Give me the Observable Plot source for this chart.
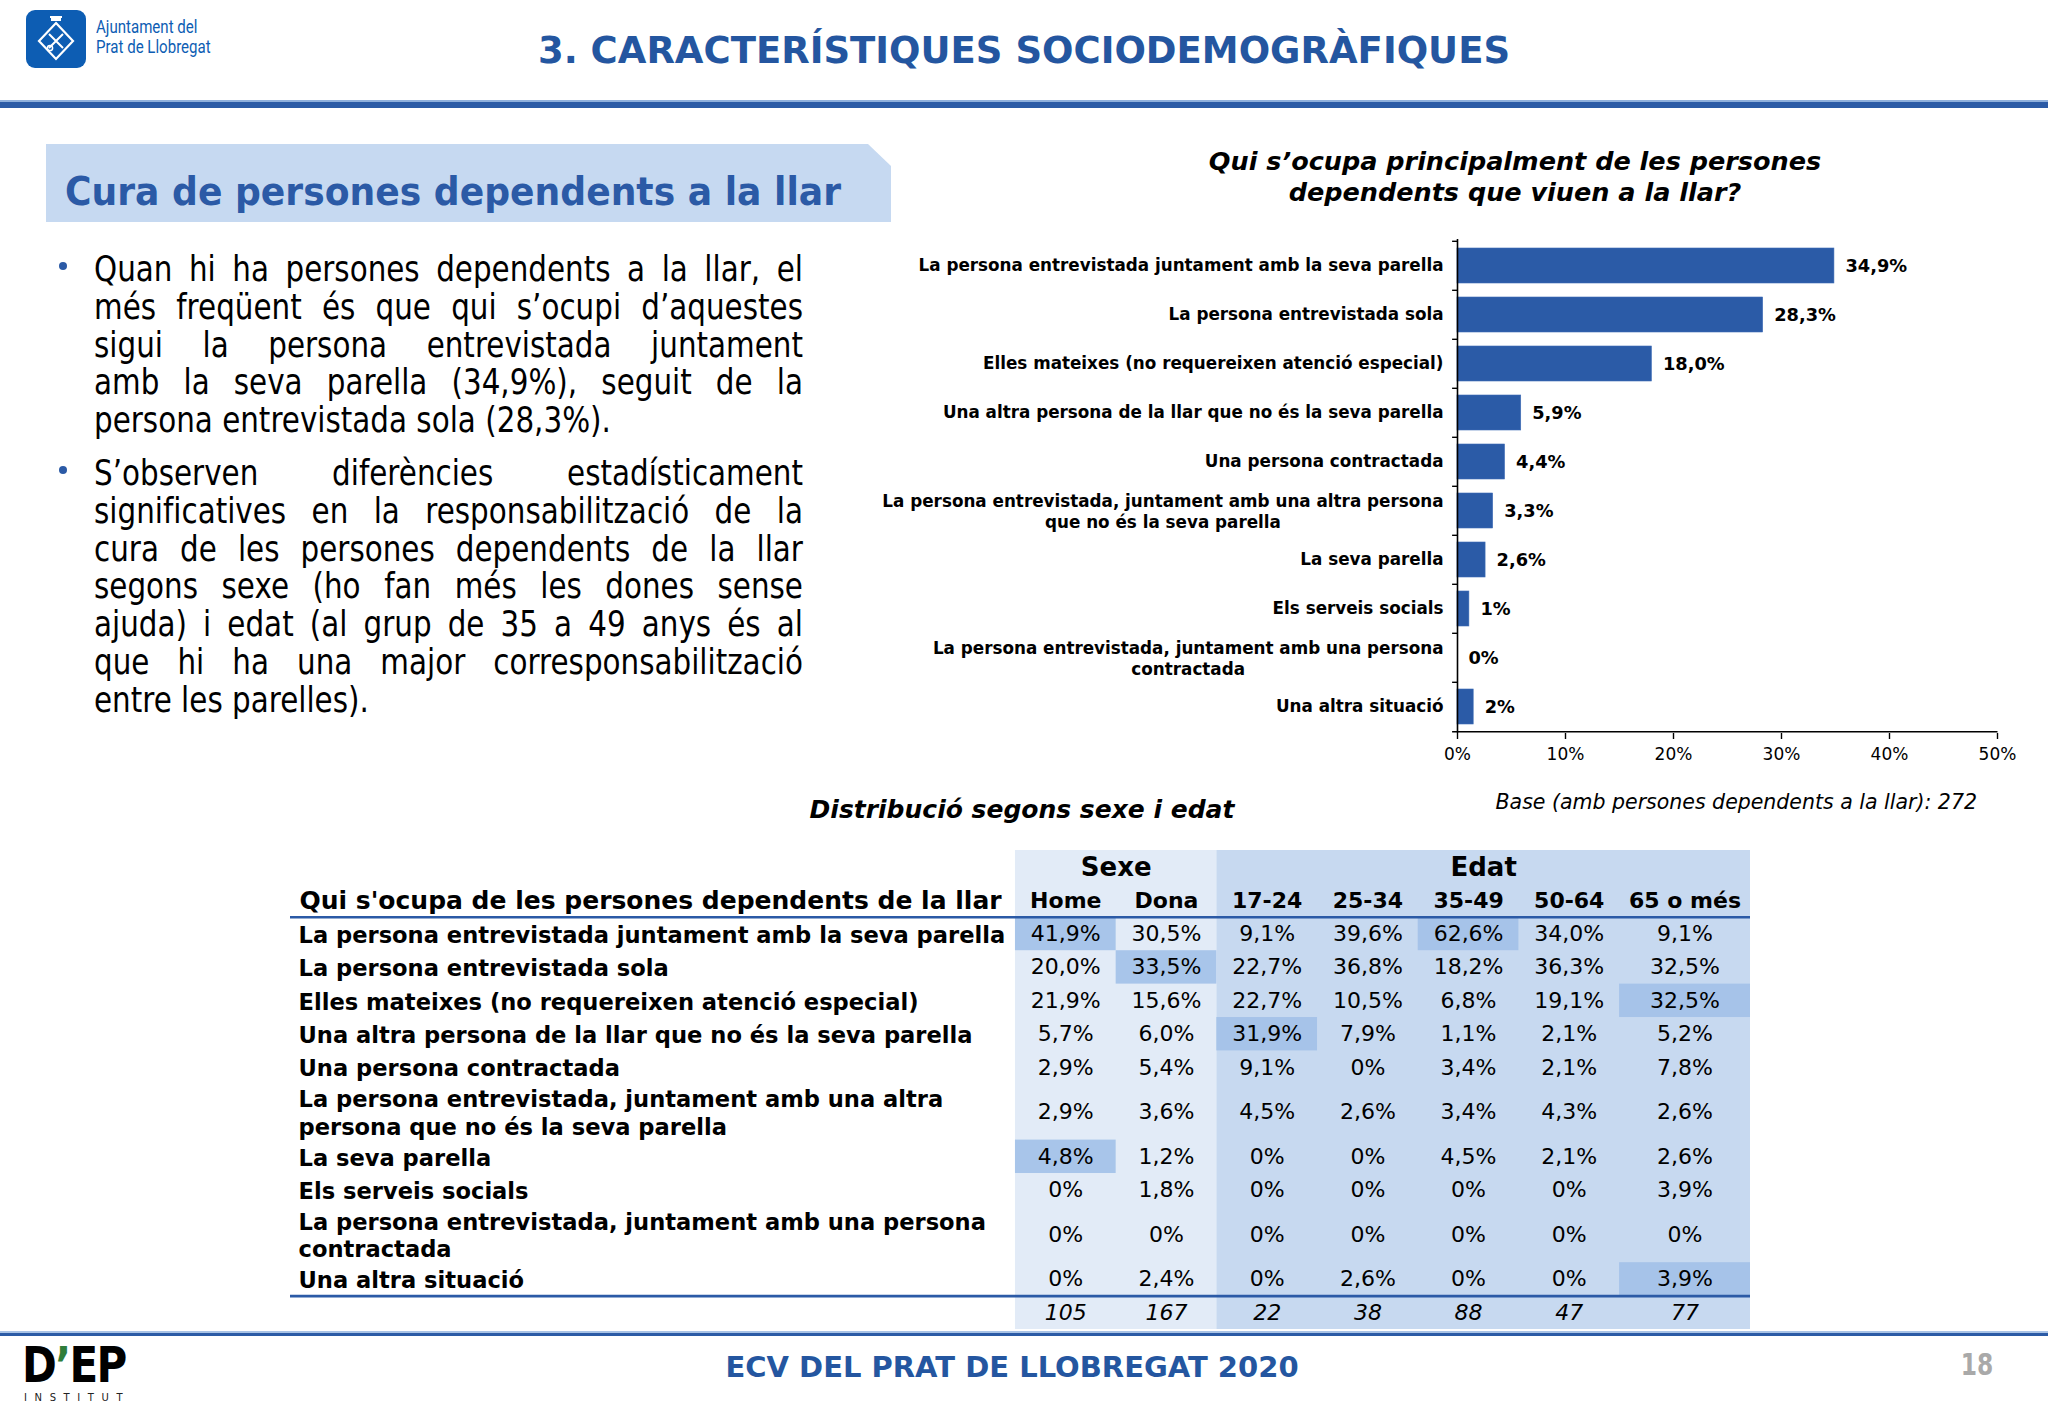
<!DOCTYPE html>
<html lang="ca">
<head>
<meta charset="utf-8">
<script src="https://cdn.jsdelivr.net/npm/d3@7"></script>
<script src="https://cdn.jsdelivr.net/npm/@observablehq/plot@0.6"></script>
<style>
  html, body { margin: 0; padding: 0; background: #ffffff; }
  body { width: 2048px; height: 1418px; position: relative; overflow: hidden;
         font-family: "DejaVu Sans", Verdana, sans-serif; color: #000; }
  .abs { position: absolute; }
  #logo { left: 26px; top: 10px; width: 60px; height: 58px; background: #0d5db3; border-radius: 9px; }
  #logoText { left: 96px; top: 17px; color: #0d5db3; font-family: Roboto, sans-serif; font-size: 17.5px;
              line-height: 20px; transform: scaleX(0.86); transform-origin: left top; }
  #title { left: 0; top: 30px; width: 2048px; text-align: center; font-weight: bold; font-size: 37px;
           line-height: 42px; color: #2456a0; }
  #topRule { left: 0; top: 102px; width: 2048px; height: 6px; background: #2b5ba6; }
  #topRule2 { left: 0; top: 100px; width: 2048px; height: 2px; background: #8fb0dc; }
  #section { left: 46px; top: 144px; width: 845px; height: 78px; background: #c6d9f1;
             clip-path: polygon(0 0, 822px 0, 845px 22px, 845px 78px, 0 78px); }
  #sectionText { left: 65px; top: 169px; font-weight: bold; font-size: 39px; line-height: 46px; color: #2b5aa6;
                 white-space: nowrap; transform-origin: left top; }
  .bullet { position: absolute; left: 94px; width: 709px; }
  .bullet .inner { width: 844px; transform: scaleX(0.84); transform-origin: left top; font-size: 35px; line-height: 37.8px; }
  .bullet .ln { text-align: justify; text-align-last: justify; white-space: nowrap; }
  .bullet .ln.last { text-align-last: left; }
  .dot { position: absolute; left: 59px; width: 8px; height: 8px; border-radius: 50%; background: #2b5aa6; }
  #chartTitle { left: 1115px; top: 146px; width: 800px; text-align: center; font-weight: bold; font-style: italic;
                font-size: 25.5px; line-height: 31px; }
  #barChart { left: 860px; top: 225px; }
  #baseNote { left: 1380px; top: 789px; width: 597px; text-align: right; font-style: italic; font-size: 20.5px; line-height: 26px; }
  #tableTitle { left: 722px; top: 795px; width: 600px; text-align: center; font-weight: bold; font-style: italic;
                font-size: 25px; line-height: 30px; }
  #table { left: 290px; top: 850px; }
  #footRule { left: 0; top: 1333px; width: 2048px; height: 3px; background: #2b5ba6; }
  #footRule2 { left: 0; top: 1331px; width: 2048px; height: 2px; background: #a9c3e6; }
  #footTitle { left: 0; top: 1350px; width: 2024px; text-align: center; font-weight: bold; font-size: 29px;
               line-height: 34px; color: #2456a0; }
  #pageNum { left: 1950px; top: 1348px; width: 54px; text-align: center; font-size: 30px; line-height: 34px; color: #a9a9a9;
             font-weight: bold; transform: scaleX(0.78); }
  #dep { left: 22px; top: 1340px; font-weight: bold; font-size: 50px; line-height: 50px; letter-spacing: -2px;
         transform: scaleX(0.84); transform-origin: left top; color: #000; font-family: "DejaVu Sans", sans-serif; }
  #dep span { color: #2f7d3a; }
  #inst { left: 24px; top: 1392px; font-size: 10px; letter-spacing: 7.6px; color: #222; line-height: 12px; }
</style>
</head>
<body>
<div id="logo" class="abs">
  <svg width="60" height="58" viewBox="0 0 60 58">
    <path d="M30 13 L47 31 L30 49 L13 31 Z" fill="none" stroke="#fff" stroke-width="2.2"/>
    <path d="M23 24 L37 38 M37 24 L23 38" stroke="#fff" stroke-width="2"/>
    <circle cx="24" cy="38" r="2.6" fill="none" stroke="#fff" stroke-width="1.5"/>
    <path d="M24 6 h12 v2 h-12 z M25 8 h10 v3 h-10 z" fill="#fff"/>
  </svg>
</div>
<div id="logoText" class="abs">Ajuntament del<br>Prat de Llobregat</div>
<div id="title" class="abs">3. CARACTERÍSTIQUES SOCIODEMOGRÀFIQUES</div>
<div id="topRule2" class="abs"></div>
<div id="topRule" class="abs"></div>

<div id="section" class="abs"></div>
<div id="sectionText" class="abs">Cura de persones dependents a la llar</div>

<div class="dot" style="top:262px"></div>
<div class="bullet" style="top:251px"><div class="inner">
  <div class="ln">Quan hi ha persones dependents a la llar, el</div>
  <div class="ln">més freqüent és que qui s’ocupi d’aquestes</div>
  <div class="ln">sigui la persona entrevistada juntament</div>
  <div class="ln">amb la seva parella (34,9%), seguit de la</div>
  <div class="ln last">persona entrevistada sola (28,3%).</div>
</div></div>
<div class="dot" style="top:466px"></div>
<div class="bullet" style="top:455px"><div class="inner">
  <div class="ln">S’observen diferències estadísticament</div>
  <div class="ln">significatives en la responsabilització de la</div>
  <div class="ln">cura de les persones dependents de la llar</div>
  <div class="ln">segons sexe (ho fan més les dones sense</div>
  <div class="ln">ajuda) i edat (al grup de 35 a 49 anys és al</div>
  <div class="ln">que hi ha una major corresponsabilització</div>
  <div class="ln last">entre les parelles).</div>
</div></div>

<div id="chartTitle" class="abs">Qui s’ocupa principalment de les persones<br>dependents que viuen a la llar?</div>
<div id="barChart" class="abs"></div>
<div id="baseNote" class="abs">Base (amb persones dependents a la llar): 272</div>

<div id="tableTitle" class="abs">Distribució segons sexe i edat</div>
<div id="table" class="abs"></div>

<div id="footRule2" class="abs"></div>
<div id="footRule" class="abs"></div>
<div id="dep" class="abs">D<span>’</span>EP</div>
<div id="inst" class="abs">INSTITUT</div>
<div id="footTitle" class="abs">ECV DEL PRAT DE LLOBREGAT 2020</div>
<div id="pageNum" class="abs">18</div>

<script>
// ---------------- DATA ----------------
const categories = [
  "La persona entrevistada juntament amb la seva parella",
  "La persona entrevistada sola",
  "Elles mateixes (no requereixen atenció especial)",
  "Una altra persona de la llar que no és la seva parella",
  "Una persona contractada",
  "La persona entrevistada, juntament amb una altra persona\nque no és la seva parella",
  "La seva parella",
  "Els serveis socials",
  "La persona entrevistada, juntament amb una persona\ncontractada",
  "Una altra situació"
];
const shares = [34.9, 28.3, 18.0, 5.9, 4.4, 3.3, 2.6, 1.1, 0, 1.5];
const shareLabels = ["34,9%", "28,3%", "18,0%", "5,9%", "4,4%", "3,3%", "2,6%", "1%", "0%", "2%"];
const xTicks = [0, 10, 20, 30, 40, 50];
const baseNote = "Base (amb persones dependents a la llar): 272";

const tableHeader = "Qui s'ocupa de les persones dependents de la llar";
const tableRows = [
  "La persona entrevistada juntament amb la seva parella",
  "La persona entrevistada sola",
  "Elles mateixes (no requereixen atenció especial)",
  "Una altra persona de la llar que no és la seva parella",
  "Una persona contractada",
  "La persona entrevistada, juntament amb una altra\npersona que no és la seva parella",
  "La seva parella",
  "Els serveis socials",
  "La persona entrevistada, juntament amb una persona\ncontractada",
  "Una altra situació"
];
const groups = ["Sexe", "Edat"];
const columns = ["Home", "Dona", "17-24", "25-34", "35-49", "50-64", "65 o més"];
const columnGroup = ["Sexe", "Sexe", "Edat", "Edat", "Edat", "Edat", "Edat"];
const home   = [41.9, 20.0, 21.9, 5.7, 2.9, 2.9, 4.8, 0, 0, 0];
const dona   = [30.5, 33.5, 15.6, 6.0, 5.4, 3.6, 1.2, 1.8, 0, 2.4];
const age1724 = [9.1, 22.7, 22.7, 31.9, 9.1, 4.5, 0, 0, 0, 0];
const age2534 = [39.6, 36.8, 10.5, 7.9, 0, 2.6, 0, 0, 0, 2.6];
const age3549 = [62.6, 18.2, 6.8, 1.1, 3.4, 3.4, 4.5, 0, 0, 0];
const age5064 = [34.0, 36.3, 19.1, 2.1, 2.1, 4.3, 2.1, 0, 0, 0];
const age65   = [9.1, 32.5, 32.5, 5.2, 7.8, 2.6, 2.6, 3.9, 0, 3.9];
const bases = [105, 167, 22, 38, 88, 47, 77];
const highlighted = [[0, "Home"], [1, "Dona"], [6, "Home"], [3, "17-24"], [0, "35-49"], [2, "65 o més"], [9, "65 o més"]];

// ---------------- STYLE / LAYOUT ----------------
const FONT = "DejaVu Sans";
const BAR_BLUE = "#2b5ba7";
const LINE_BLUE = "#2b5aa6";
const fmtPct = v => v === 0 ? "0%" : v.toFixed(1).replace(".", ",") + "%";

// fit section heading
(function () {
  const el = document.getElementById("sectionText");
  const w = el.getBoundingClientRect().width;
  el.style.transform = `scaleX(${776 / w})`;
})();

// ---------------- BAR CHART ----------------
(function () {
  const W = 1188, H = 548, mt = 14, mr = 51, mb = 40, ml = 597;
  const step = (H - mt - mb) / categories.length;
  const labelSize = 16.8, pad = 14;
  const data = categories.map((c, i) => ({cat: c, v: shares[i], label: shareLabels[i]}));
  const ctx = document.createElement("canvas").getContext("2d");
  ctx.font = `bold ${labelSize}px "${FONT}"`;
  const single = data.filter(d => !d.cat.includes("\n"));
  const multi = data.filter(d => d.cat.includes("\n"));
  const multiMarks = multi.map(d => {
    const widest = Math.max(...d.cat.split("\n").map(s => ctx.measureText(s).width));
    return Plot.text([d], {y: "cat", text: "cat", frameAnchor: "left", textAnchor: "middle",
      dx: -(pad + widest / 2), fontWeight: "bold", fontSize: labelSize, lineHeight: 1.26});
  });
  const chart = Plot.plot({
    width: W, height: H, marginTop: mt, marginRight: mr, marginBottom: mb, marginLeft: ml,
    style: {fontFamily: FONT, fontSize: "17px", color: "#000", background: "transparent", overflow: "visible"},
    x: {domain: [0, 50], axis: null},
    y: {domain: categories, paddingInner: 0.29, paddingOuter: 0.145, axis: null},
    marks: [
      Plot.barX(data, {y: "cat", x: "v", fill: BAR_BLUE, stroke: "#3d6cb6", strokeWidth: 0.6}),
      Plot.text(data, {y: "cat", x: "v", text: "label", textAnchor: "start", dx: 11, fontWeight: "bold", fontSize: 17.8}),
      Plot.text(single, {y: "cat", text: "cat", frameAnchor: "left", textAnchor: "end", dx: -pad,
        fontWeight: "bold", fontSize: labelSize}),
      ...multiMarks,
      Plot.ruleX([0], {stroke: "#000", strokeWidth: 1.6}),
      Plot.link(categories, {x1: -0.5, x2: 0, y1: d => d, y2: d => d, dy: -step / 2, stroke: "#000", strokeWidth: 1.4}),
      Plot.link([categories[categories.length - 1]], {x1: -0.5, x2: 50, y1: d => d, y2: d => d, dy: step / 2, stroke: "#000", strokeWidth: 1.6}),
      Plot.axisX({ticks: xTicks, tickFormat: d => d + "%", label: null, tickSize: 6, tickPadding: 8, fontSize: 17, stroke: "#000", strokeWidth: 1.4})
    ]
  });
  document.getElementById("barChart").appendChild(chart);
})();

// ---------------- TABLE ----------------
(function () {
  const W = 1460, H = 479;
  const values = [home, dona, age1724, age2534, age3549, age5064, age65];
  const colW = [1, 1, 1, 1, 1, 1, 1.3];
  const labelW = 7.2;
  const colStart = []; let acc = 0;
  colW.forEach(w => { colStart.push(acc); acc += w; });
  const colEnd = acc;
  const rowH = tableRows.map(r => r.includes("\n") ? 1.67 : 1);
  const headH = 2;
  const rowTop = []; let yy = headH;
  rowH.forEach(h => { rowTop.push(yy); yy += h; });
  const nTop = yy, total = yy + 1;

  const colInfo = columns.map((c, j) => ({name: c, group: columnGroup[j], x1: colStart[j], x2: colStart[j] + colW[j]}));
  const groupInfo = groups.map(g => {
    const cs = colInfo.filter(c => c.group === g);
    return {name: g, x1: d3.min(cs, c => c.x1), x2: d3.max(cs, c => c.x2)};
  });
  const cells = [];
  tableRows.forEach((r, i) => colInfo.forEach((c, j) => {
    cells.push({row: i, col: c.name, group: c.group, x1: c.x1, x2: c.x2, y1: rowTop[i], y2: rowTop[i] + rowH[i],
      v: values[j][i], hl: highlighted.some(([ri, cn]) => ri === i && cn === c.name)});
  }));
  const rowsData = tableRows.map((r, i) => ({label: r, y: rowTop[i] + rowH[i] / 2}));
  const baseData = colInfo.map((c, j) => ({x: (c.x1 + c.x2) / 2, n: bases[j]}));

  const table = Plot.plot({
    width: W, height: H, margin: 0,
    style: {fontFamily: FONT, fontSize: "22px", color: "#000", background: "transparent", overflow: "visible"},
    x: {type: "linear", domain: [-labelW, colEnd], range: [0, W], axis: null},
    y: {type: "linear", domain: [0, total], range: [0, H], axis: null},
    marks: [
      Plot.rect(groupInfo, {x1: "x1", x2: "x2", y1: 0, y2: total, fill: d => d.name === "Sexe" ? "#e2ebf7" : "#c7d9f0"}),
      Plot.rect(cells.filter(d => d.hl), {x1: "x1", x2: "x2", y1: "y1", y2: "y2", fill: d => d.group === "Sexe" ? "#a8c5ea" : "#a6c3e9"}),
      Plot.ruleY([headH, nTop], {x1: -labelW, x2: colEnd, stroke: LINE_BLUE, strokeWidth: 2.6}),
      Plot.text(groupInfo, {x: d => (d.x1 + d.x2) / 2, y: 0.5, text: "name", fontWeight: "bold", fontSize: 26}),
      Plot.text(colInfo, {x: d => (d.x1 + d.x2) / 2, y: 1.5, text: "name", fontWeight: "bold", fontSize: 22}),
      Plot.text([tableHeader], {x: -labelW, y: 1.5, dx: 9, text: d => d, textAnchor: "start", fontWeight: "bold", fontSize: 25}),
      Plot.text(rowsData, {x: -labelW, y: "y", dx: 8, text: "label", textAnchor: "start", fontWeight: "bold", fontSize: 22.6, lineHeight: 1.22}),
      Plot.text(cells, {x: d => (d.x1 + d.x2) / 2, y: d => (d.y1 + d.y2) / 2, text: d => fmtPct(d.v), fontSize: 22}),
      Plot.text(baseData, {x: "x", y: nTop + 0.5, text: d => String(d.n), fontStyle: "italic", fontSize: 22})
    ]
  });
  document.getElementById("table").appendChild(table);
})();
</script>
</body>
</html>
